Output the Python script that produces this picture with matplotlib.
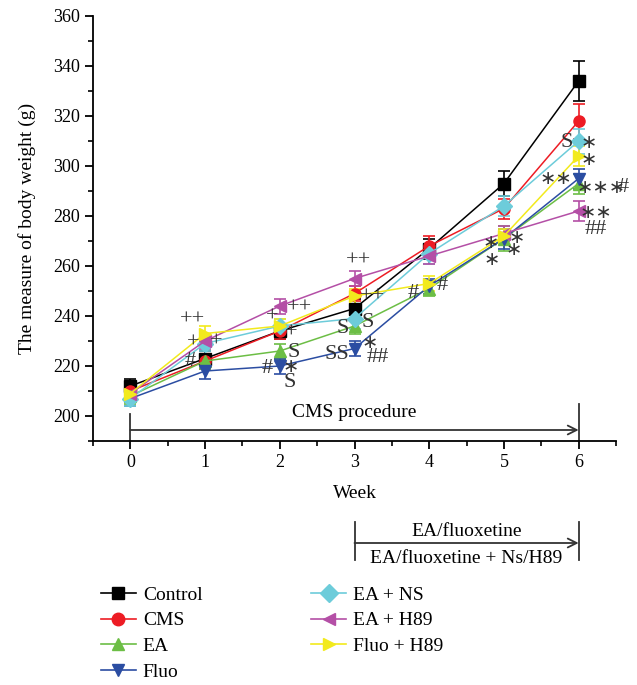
import matplotlib
matplotlib.use('Agg')
import matplotlib.pyplot as plt
from matplotlib.lines import Line2D
import numpy as np

plt.rcParams['font.family'] = ['Liberation Serif', 'DejaVu Serif']

weeks = [0, 1, 2, 3, 4, 5, 6]
groups = ['Control', 'CMS', 'EA', 'Fluo', 'EA + NS', 'EA + H89', 'Fluo + H89']

control = [212, 223, 234, 243, 267, 293, 334]
cms = [210, 222, 234, 249, 268, 283, 318]
ea = [208, 222, 226, 236, 251, 271, 293]
fluo = [207, 218, 220, 227, 252, 271, 295]
ea_ns = [207, 229, 236, 239, 265, 284, 310]
ea_h89 = [209, 230, 244, 255, 264, 273, 282]
fluo_h89 = [209, 233, 236, 248, 253, 272, 304]

control_err = [3, 3, 3, 4, 4, 5, 8]
cms_err = [3, 3, 3, 3, 4, 4, 7]
ea_err = [3, 3, 3, 3, 3, 5, 4]
fluo_err = [3, 3, 3, 3, 3, 4, 4]
ea_ns_err = [3, 3, 3, 4, 4, 4, 5]
ea_h89_err = [3, 3, 3, 3, 3, 3, 4]
fluo_h89_err = [3, 3, 3, 3, 3, 3, 4]

series = [control, cms, ea, fluo, ea_ns, ea_h89, fluo_h89]
errors = [control_err, cms_err, ea_err, fluo_err, ea_ns_err, ea_h89_err, fluo_h89_err]
colors = ['#000000', '#ED1C24', '#6CBE45', '#2B4DA2', '#6DCCDA', '#B44FA6', '#F2EA1D']
markers = ['s', 'o', '^', 'v', 'D', '<', '>']

# significance marks (text, week, weight)
marks = [
    ('++', 0.83, 238.5), ('+', 0.84, 229), ('+', 1.15, 229.5), ('#', 0.80, 222),
    ('+', 1.90, 239.5), ('++', 2.27, 243), ('+', 2.15, 233), ('S', 2.18, 225.5),
    ('#', 1.83, 219), ('S', 2.13, 213.5),
    ('++', 3.05, 262), ('++', 3.24, 247.5), ('S', 2.84, 235), ('S', 3.17, 237.5),
    ('##', 3.31, 223.5), ('SS', 2.76, 224.5),
    ('#', 3.78, 249), ('#', 4.18, 252),
    ('S', 5.84, 309.5), ('#', 6.60, 291.5), ('##', 6.23, 274.5),
]
stars = [
    ('∗', 2.15, 220), ('∗', 3.20, 229.5),
    ('∗', 4.82, 269.5), ('∗', 5.17, 271.5), ('∗', 5.13, 266.5), ('∗', 4.83, 262.5),
    ('∗', 6.14, 309.5), ('∗', 6.14, 302.5), ('∗∗', 5.70, 295),
    ('∗∗∗', 6.30, 291.5), ('∗∗', 6.23, 281.5),
]

fig = plt.figure(figsize=(6.37, 6.85), dpi=100)
ax = fig.add_axes([93/637, 1 - 441/685, 523/637, 425/685])

handles = []
for vals, err, c, m, name in zip(series, errors, colors, markers, groups):
    ax.errorbar(weeks, vals, yerr=err, color=c, marker=m, markersize=8,
                linewidth=1.1, elinewidth=1.2, capsize=4, capthick=1.2,
                markeredgecolor=c)
    handles.append(Line2D([], [], color=c, marker=m, markersize=9,
                          linewidth=1.2, label=name))

for txt, x, y in marks:
    ax.text(x, y, txt, ha='center', va='center', fontsize=16, color='#333333')
for txt, x, y in stars:
    ax.text(x, y, txt, ha='center', va='center', fontsize=14, color='#333333',
            family='DejaVu Sans')

ax.set_xlim(-0.5, 6.5)
ax.set_ylim(190, 360)
ax.set_xticks(weeks)
ax.set_xticks(np.arange(-0.5, 6.6, 0.5), minor=True)
ax.set_yticks(np.arange(200, 361, 20))
ax.set_yticks(np.arange(190, 361, 10), minor=True)
ax.tick_params(which='major', direction='out', length=6, width=1.3, labelsize=13)
ax.tick_params(which='minor', direction='out', length=3.5, width=1.2)
ax.spines['top'].set_visible(False)
ax.spines['right'].set_visible(False)
ax.spines['left'].set_linewidth(1.3)
ax.spines['bottom'].set_linewidth(1.3)
ax.set_xlabel('Week', fontsize=14, labelpad=10)
ax.set_ylabel('The measure of body weight (g)', fontsize=14, labelpad=12)

# CMS procedure arrow inside the axes
ax.plot([0, 0], [190, 201], color='#333333', lw=1.3, clip_on=False)
ax.plot([6, 6], [190, 205], color='#333333', lw=1.3, clip_on=False)
ax.annotate('', xy=(6, 194.4), xytext=(0, 194.4),
            arrowprops=dict(arrowstyle='->', color='#333333', lw=1.3,
                            shrinkA=0, shrinkB=0, mutation_scale=16))
ax.text(3, 201.5, 'CMS procedure', ha='center', va='center', fontsize=14)

# treatment arrow below the axis
tr = ax.get_xaxis_transform()
ax.plot([3, 3], [-0.190, -0.280], color='#333333', lw=1.3, transform=tr, clip_on=False)
ax.plot([6, 6], [-0.190, -0.280], color='#333333', lw=1.3, transform=tr, clip_on=False)
ax.annotate('', xy=(6, -0.240), xytext=(3, -0.240), xycoords=tr, textcoords=tr,
            arrowprops=dict(arrowstyle='->', color='#333333', lw=1.3,
                            shrinkA=0, shrinkB=0, mutation_scale=16))
ax.text(4.5, -0.212, 'EA/fluoxetine', ha='center', va='center', fontsize=14, transform=tr)
ax.text(4.5, -0.276, 'EA/fluoxetine + Ns/H89', ha='center', va='center', fontsize=14, transform=tr)

fig.legend(handles=handles, loc='upper left', bbox_to_anchor=(0.131, 0.170), ncol=2,
           frameon=False, fontsize=14, handlelength=1.8, columnspacing=5.6,
           labelspacing=0.42, handletextpad=0.35)

plt.savefig('out.png', dpi=100)
